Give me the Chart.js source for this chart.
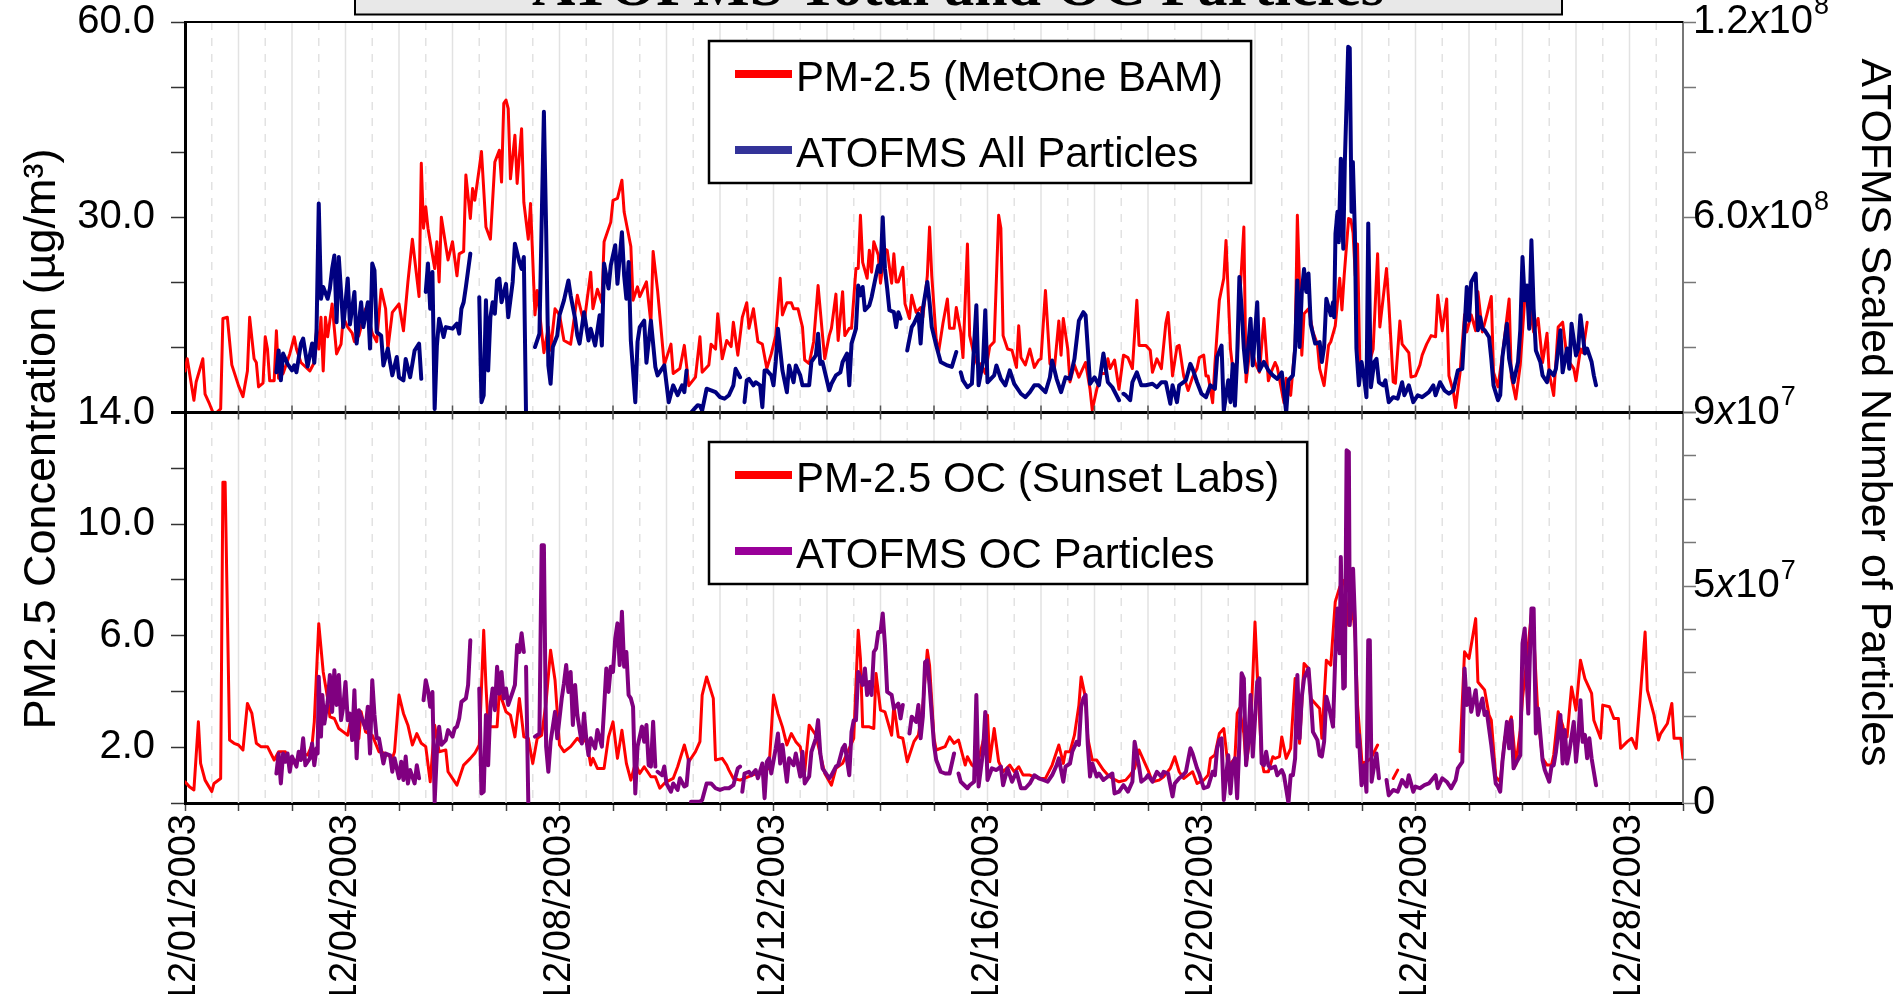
<!DOCTYPE html>
<html>
<head>
<meta charset="utf-8">
<title>ATOFMS Total and OC Particles</title>
<script src="https://cdn.jsdelivr.net/npm/chart.js@4/dist/chart.umd.min.js"></script>
<style>
  html, body { margin: 0; padding: 0; background: #fff; }
</style>
</head>
<body>
<canvas id="myChart" width="1899" height="994"></canvas>
<script>
// hours since 12/01/2003 00:00, value
const bamPm25 = [[0,17.4],[1,18.4],[4,15.0],[5,16.5],[8,18.4],[9,15.5],[11,14.7],[13,13.8],[16,14.3],[17,21.7],[19,21.8],[21,17.9],[24,16.2],[26,15.3],[28,17.4],[29,21.8],[31,18.4],[32,18.1],[33,16.1],[35,16.4],[36,20.2],[37,19.2],[38,16.6],[40,16.6],[41,20.7],[42,16.8],[44,17.2],[47,18.8],[49,20.2],[50,19.2],[52,18.1],[56,17.4],[58,18.1],[59,20.9],[60,19.2],[61,21.8],[62,17.4],[63,21.8],[64,20.2],[66,22.9],[68,18.8],[70,19.6],[71,21.8],[73,21.0],[75,20.5],[76,19.8],[78,20.3],[81,22.5],[84,20.5],[86,19.8],[88,24.1],[90,22.5],[91,19.2],[93,22.2],[96,22.9],[98,20.7],[100,24.7],[102,28.2],[105,23.5],[106,38.3],[107,29.1],[108,31.6],[109,29.1],[112,25.8],[113,28.0],[114,24.7],[115,30.0],[118,26.5],[120,28.0],[122,25.2],[123,27.0],[125,27.2],[126,36.5],[128,29.9],[129,34.4],[130,32.6],[132,37.5],[133,40.1],[135,29.2],[137,28.2],[139,38.5],[141,40.3],[142,35.4],[143,47.5],[144,48.0],[145,46.7],[146,35.9],[148,42.6],[149,35.2],[151,43.6],[152,32.3],[154,28.2],[155,32.1],[157,22.0],[158,24.0],[161,18.9],[163,21.0],[164,19.1],[166,22.5],[168,22.0],[170,19.9],[173,19.6],[176,23.6],[179,21.3],[182,25.5],[183,22.5],[185,24.1],[187,23.0],[188,28.0],[191,29.6],[192,32.6],[194,32.9],[196,35.7],[197,30.8],[200,27.6],[201,23.2],[203,24.3],[204,23.5],[207,24.7],[209,21.3],[210,27.2],[212,24.0],[215,17.9],[218,19.6],[219,17.2],[222,17.6],[224,19.5],[226,16.2],[229,16.9],
  [231,20.2],[232,17.3],[235,17.9],[236,19.6],[238,19.2],[239,22.1],[241,18.4],[243,19.9],[245,19.4],[246,21.4],[248,18.7],[250,21.8],[252,23.0],[253,20.9],[255,22.5],[257,19.8],[259,19.6],[261,17.6],[263,18.8],[265,20.3],[267,25.0],[268,22.0],[270,23.0],[272,23.0],[273,22.5],[275,22.5],[277,21.0],[278,18.3],[280,18.0],[282,19.8],[284,24.4],[286,20.3],[287,18.4],[289,20.3],[290,20.9],[292,23.7],[293,19.9],[295,23.9],[296,20.3],[298,20.9],[299,20.9],[301,25.8],[302,25.8],[303,30.3],[304,26.3],[306,25.0],[307,27.3],[308,25.5],[309,28.0],[311,26.9],[312,24.6],[314,27.4],[315,27.3],[317,24.6],[318,27.0],[319,24.7],[320,24.7],[322,25.9],[323,22.9],[325,21.7],[326,23.6],[328,22.2],[330,22.6],[331,21.8],[333,25.2],[334,29.2],[335,25.2],[337,20.0],[338,18.9],[340,21.3],[342,23.3],[343,20.9],[345,20.9],[346,22.6],[348,20.6],[349,18.5],[351,27.8],[352,20.3],[354,18.7],[356,17.6],[357,18.0],[359,17.2],[361,19.4],[363,19.8],[365,30.3],[366,29.1],[367,20.3],[369,19.2],[371,19.1],[373,17.7],[374,21.1],[375,18.5],[377,17.9],[379,19.2],[381,17.7],[383,18.3],[384,18.4],[386,24.0],[388,18.0],[390,17.6],[392,21.5],[393,18.7],[394,21.7],[396,19.2],[397,16.5],[399,17.9],[401,16.9],[404,18.1],[406,15.9],[407,14.2],[409,15.9],[411,17.2],[413,17.2],[414,18.4],[415,17.6],[417,18.3],[419,15.9],[421,18.7],[423,18.5],[425,17.6],[427,23.2],[428,19.5],[431,19.5],[433,19.1],[434,17.3],[436,18.4],[438,17.6],[440,21.3],[441,22.2],[443,17.0],[445,19.4],[446,19.5],[448,17.0],[450,15.8],[452,16.9],[454,17.6],[455,18.5],[457,18.7],[458,17.0],[459,17.0],[461,14.8],
  [462,17.9],[464,23.2],[466,25.0],[467,28.1],[469,19.2],[470,17.6],[472,18.1],[473,22.8],[475,29.2],[476,16.5],[478,19.6],[480,18.1],[482,17.3],[484,21.7],[486,16.6],[487,17.2],[489,18.1],[490,17.7],[493,14.8],[494,16.8],[496,15.4],[498,19.6],[499,30.3],[501,18.7],[502,22.1],[504,22.5],[506,20.6],[508,19.6],[509,17.6],[511,16.2],[513,19.5],[514,19.8],[516,21.1],[518,25.0],[519,22.4],[520,25.2],[522,29.9],[523,29.8],[524,28.7],[525,25.2],[526,27.8],[527,18.3],[529,17.0],[531,17.9],[533,19.2],[535,27.0],[536,21.0],[539,25.8],[540,23.0],[542,16.5],[543,16.4],[545,21.5],[546,19.6],[549,18.9],[550,16.9],[552,17.0],[554,17.9],[555,18.7],[557,19.6],[559,20.3],[561,20.2],[562,23.6],[564,20.7],[566,23.3],[567,17.0],[569,15.7],[570,14.4],[572,17.3],[574,22.0],[575,20.6],[577,22.0],[579,20.7],[580,23.9],[582,20.6],[584,22.0],[586,23.5],[587,17.3],[589,16.1],[591,18.7],[594,23.3],[595,16.9],[597,15.1],[599,17.9],[601,23.3],[603,23.0],[605,20.6],[607,21.7],[609,18.1],[611,20.5],[612,17.2],[614,15.4],[616,21.0],[618,21.4],[620,18.4],[623,17.6],[624,16.6],[626,19.2],[627,18.9],[629,21.4]];

// scaled particle counts, units of 1e8
const atofmsAll = [[41,1.95],[42,2.52],[43,1.74],[44,2.44],[46,2.17],[48,2.0],[49,2.13],[50,1.95],[52,2.7],[53,2.83],[55,2.1],[57,2.7],[58,2.2],[59,3.0],[60,6.42],[61,3.87],[62,4.18],[64,3.87],[65,4.14],[66,4.65],[67,5.0],[68,3.26],[69,4.96],[70,4.05],[71,3.13],[73,4.4],[74,3.2],[76,4.05],[77,2.7],[79,3.78],[80,3.13],[82,3.78],[83,2.57],[84,4.79],[85,4.61],[86,3.0],[88,2.91],[89,2.13],[91,2.57],[92,2.2],[93,1.87],[95,2.35],[96,1.82],[98,1.74],[99,2.3],[101,1.82],[103,2.52],[105,2.7],[106,1.78],[107,null],[108,4.05],[109,4.79],[110,3.61],[111,4.57],[112,0.99],[113,2.65],[114,3.35],[116,2.87],[117,3.13],[120,3.09],[122,3.22],[123,2.96],[124,3.61],[125,3.78],[126,4.18],[128,5.05],[130,null],[132,3.91],[133,1.17],[134,1.35],[135,3.83],[136,2.0],[137,3.39],[138,3.78],[139,3.48],[140,4.35],[141,4.4],[142,3.78],[144,4.26],[145,3.39],[147,4.31],[148,5.31],[150,4.83],[151,4.65],[152,4.96],[153,0.8],[155,null],[157,2.61],[159,2.96],[161,9.24],[162,5.7],[163,2.13],[164,1.65],[165,2.61],[167,2.91],[168,3.44],[170,3.83],[172,4.35],[173,3.96],[175,3.35],[176,2.91],[177,2.7],[179,3.52],[181,2.78],[182,3.09],[184,2.65],[186,3.44],[187,2.65],[188,4.79],[190,4.14],[191,4.74],[193,5.27],[194,4.26],[196,5.61],[197,4.48],[198,3.87],[199,4.83],[200,2.78],[202,1.17],[203,2.74],[204,3.13],[206,3.3],[207,2.2],[209,3.3],[211,2.09],[212,1.87],[215,2.13],[217,1.17],[219,1.61],[221,1.35],[223,1.61],[224,1.43],[225,2.0],[226,null],[227,0.9],[230,1.09],
  [231,1.08],[232,0.95],[234,1.52],[236,1.48],[238,1.43],[240,1.3],[242,1.26],[244,1.35],[246,1.61],[247,2.04],[249,1.82],[250,null],[251,1.17],[252,1.74],[253,1.78],[255,1.61],[256,1.69],[258,1.61],[259,1.04],[260,2.0],[261,2.0],[263,1.87],[264,1.61],[265,2.22],[266,3.09],[268,2.0],[270,1.43],[271,2.13],[273,1.69],[274,2.13],[276,1.87],[277,1.61],[280,1.61],[281,2.22],[283,2.39],[284,2.96],[285,2.17],[286,2.22],[289,1.48],[290,1.65],[292,1.87],[294,1.95],[295,2.22],[297,2.44],[298,1.61],[299,2.7],[301,3.09],[302,4.22],[303,3.96],[304,4.18],[305,3.57],[307,3.7],[308,3.91],[310,4.48],[311,4.74],[312,4.57],[313,6.0],[314,4.65],[315,4.14],[316,3.57],[318,3.52],[319,3.13],[320,3.52],[321,3.35],[322,null],[324,2.52],[326,3.13],[327,3.22],[329,3.48],[330,2.7],[331,3.61],[333,4.31],[334,3.78],[335,3.13],[337,2.65],[339,2.22],[342,2.13],[344,2.09],[346,2.48],[347,null],[348,1.95],[349,1.74],[351,1.56],[353,1.65],[355,3.7],[356,1.61],[358,2.22],[359,3.57],[360,1.69],[363,1.87],[364,2.13],[366,1.78],[368,1.61],[370,2.0],[372,1.65],[375,1.39],[377,1.3],[379,1.43],[381,1.61],[383,1.61],[386,1.43],[388,1.82],[389,2.26],[391,1.78],[393,1.43],[395,1.82],[397,1.78],[399,2.3],[401,3.3],[403,3.52],[404,3.44],[405,2.57],[406,1.65],[408,1.82],[410,1.61],[412,2.44],[414,1.69],[416,1.56],[419,1.22],[420,null],[421,1.39],[422,1.35],[424,1.22],[425,1.69],[427,1.95],[429,1.61],[431,1.61],[434,1.65],[436,1.56],[438,1.69],[440,1.69],[442,1.13],[443,1.61],[445,1.17],[446,1.61],[449,1.74],[451,2.17],[452,2.04],[454,1.69],[456,1.39],[458,1.3],[460,1.61],
  [462,1.52],[463,2.35],[465,2.65],[466,0.95],[468,1.74],[469,1.17],[470,2.17],[471,1.08],[472,2.35],[473,4.44],[474,3.61],[475,2.57],[476,1.95],[478,3.35],[479,2.13],[481,3.78],[482,2.0],[484,2.22],[486,2.0],[488,1.87],[490,1.78],[492,1.95],[494,0.9],[495,1.74],[497,1.87],[498,2.57],[499,4.35],[500,2.61],[501,4.05],[502,4.65],[503,4.05],[504,4.53],[505,3.2],[507,2.7],[509,2.74],[510,2.22],[511,2.61],[512,3.87],[514,3.44],[515,3.78],[515.5,3.39],[516.1,5.57],[517,6.17],[517.6,5.35],[518.5,7.8],[519.6,5.18],[520.3,7.7],[521.1,9.55],[521.8,11.24],[522.5,11.2],[523.3,6.17],[523.9,7.7],[524.8,5.61],[525.5,2.57],[526.6,1.61],[527.8,2.22],[529,1.78],[530,1.3],[530.8,5.84],[532,1.56],[533.5,2.22],[534.5,2.3],[535.6,1.69],[537.5,1.61],[538.5,1.74],[540,1.17],[542,1.3],[544,1.26],[546,1.69],[547,1.35],[549,1.61],[551,1.17],[553,1.35],[555,1.3],[558,1.43],[560,1.61],[561,1.35],[563,1.69],[565,1.48],[567,1.39],[569,1.48],[571,2.0],[573,2.04],[574,3.09],[575,4.18],[576,3.3],[577,4.31],[579,4.53],[580,3.05],[581,3.39],[582,3.09],[583,3.05],[585,2.87],[586,2.3],[587,1.61],[589,1.22],[590,1.35],[591,2.35],[593,3.22],[594,2.3],[596,1.69],[598,2.22],[599,3.05],[600,4.96],[601,3.83],[602,4.22],[603,3.09],[604,5.4],[605,3.61],[606,2.52],[608,2.22],[609,1.87],[611,1.69],[612,2.0],[614,1.87],[615,2.04],[617,3.05],[618,1.95],[620,2.57],[621,2.04],[622,3.22],[624,2.39],[625,2.57],[626,3.44],[628,2.44],[629,2.57],[631,2.22],[632,1.87],[633,1.61]];

// organic carbon, ug/m3
const sunsetOc = [[0,0.76],[2,0.58],[4,0.47],[6,2.91],[7,1.42],[9,0.82],[12,0.41],[13,0.7],[16,0.88],[17,11.5],[18,11.5],[20,2.26],[22,2.14],[24,2.08],[26,1.9],[28,3.57],[30,3.21],[32,2.14],[34,2.02],[37,2.02],[40,1.54],[42,1.84],[45,1.84],[47,1.36],[50,1.54],[52,1.78],[55,1.72],[57,2.08],[58,2.91],[60,6.43],[62,4.7],[64,3.75],[65,3.09],[67,3.03],[69,2.67],[71,2.55],[73,2.43],[74,2.85],[76,2.49],[78,2.32],[79,3.27],[81,2.55],[84,2.43],[87,1.84],[90,1.78],[93,1.6],[94,1.84],[96,3.87],[98,3.21],[100,2.79],[102,2.08],[104,2.49],[106,2.14],[108,2.02],[110,0.76],[112,2.79],[114,1.84],[117,1.9],[118,1.12],[122,0.64],[125,1.36],[128,1.6],[130,1.78],[132,2.08],[134,6.19],[135,4.22],[136,2.73],[140,2.73],[141,3.99],[144,3.27],[146,3.15],[148,2.37],[150,3.75],[152,2.37],[154,2.32],[156,1.42],[158,2.32],[160,2.43],[162,3.63],[164,5.48],[166,4.4],[168,2.08],[170,1.84],[173,2.02],[176,2.32],[178,2.14],[180,2.32],[182,1.36],[183,1.6],[185,1.24],[188,1.24],[190,2.37],[192,2.91],[194,1.6],[196,2.61],[198,1.42],[200,0.82],[202,1.42],[204,1.06],[206,1.3],[209,0.94],[211,0.94],[213,0.53],[215,0.7],[216,0.76],[219,0.88],[221,1.3],[224,2.08],[226,1.48],[229,1.84],
  [231,2.2],[232,3.87],[234,4.52],[237,3.75],[238,1.54],[241,1.6],[243,1.36],[244,1.18],[246,0.88],[249,0.82],[262,1.24],[264,3.87],[266,3.21],[268,2.73],[270,2.08],[272,2.49],[274,2.2],[276,2.02],[278,1.12],[280,2.79],[283,2.43],[284,2.08],[287,1.06],[290,0.64],[292,1.24],[295,1.42],[298,1.96],[300,2.32],[302,6.19],[303,5.18],[304,2.73],[307,2.73],[309,2.67],[310,4.64],[312,3.33],[314,3.27],[317,2.43],[318,3.51],[320,2.37],[322,2.32],[324,1.48],[327,2.2],[329,2.43],[331,3.51],[333,5.48],[334,4.94],[336,2.32],[337,1.9],[341,2.02],[343,2.37],[345,2.14],[347,2.26],[350,1.36],[351,1.66],[353,1.36],[355,1.24],[358,2.2],[360,3.15],[361,1.48],[363,2.67],[365,1.48],[367,1.12],[370,1.36],[372,1.12],[374,1.3],[376,1.0],[379,1.0],[381,0.94],[384,0.88],[386,0.88],[389,1.36],[392,2.08],[394,1.42],[395,1.84],[397,1.84],[399,2.43],[401,3.51],[402,4.52],[404,3.75],[405,2.32],[407,1.54],[409,1.54],[412,1.18],[414,1.0],[416,0.88],[419,0.76],[422,0.82],[424,1.0],[426,1.24],[428,1.9],[430,1.54],[432,1.18],[434,0.76],[437,0.82],[439,0.94],[442,1.24],[444,1.66],[446,1.12],[448,0.88],[450,1.0],[452,1.12],[454,0.7],[457,0.82],[459,1.0],[460,1.6],
  [462,1.72],[464,2.49],[466,2.67],[468,1.24],[469,1.42],[471,1.6],[472,3.21],[473,3.39],[475,2.49],[476,1.36],[478,2.49],[480,6.49],[481,4.7],[483,1.54],[484,1.12],[486,1.12],[488,1.66],[489,1.6],[491,1.66],[492,2.37],[494,1.6],[496,1.96],[498,4.46],[500,2.14],[502,5.0],[504,4.82],[505,3.75],[507,3.57],[509,3.39],[510,2.32],[512,5.12],[514,4.94],[516,7.21],[518,7.74],[520,7.98],[522,6.37],[524,6.85],[525,5.9],[526,3.51],[528,1.42],[530,1.48],[532,1.6],[535,2.08],[536,null],[542,0.88],[544,1.18],[545,null],[572,1.84],[574,5.42],[576,5.18],[579,6.61],[580,4.34],[583,4.05],[585,3.15],[586,2.97],[588,0.94],[590,0.76],[592,2.32],[595,3.09],[597,1.36],[599,2.61],[600,3.75],[602,5.18],[604,6.79],[605,6.13],[607,3.03],[609,1.6],[611,1.36],[613,1.36],[614,1.72],[616,3.27],[618,2.79],[619,2.43],[620,2.37],[622,4.16],[624,3.33],[626,5.12],[628,4.46],[631,3.93],[632,2.97],[635,2.32],[636,3.51],[639,3.45],[641,3.03],[643,3.03],[644,1.96],[647,2.2],[649,2.32],[651,1.96],[653,3.99],[655,6.13],[656,4.05],[659,3.15],[661,2.26],[662,2.49],[665,2.85],[667,3.57],[668,2.32],[671,2.32],[672,1.6]];

// OC particle counts, units of 1e7
const atofmsOc = [[41,0.68],[42,1.14],[43,0.45],[44,1.14],[45,0.95],[46,1.14],[47,0.72],[48,1.07],[50,0.84],[51,1.18],[52,0.99],[53,1.49],[54,0.87],[56,1.03],[57,1.37],[58,0.87],[59,1.26],[59.5,1.14],[60,2.91],[61,1.53],[61.6,2.49],[62.5,1.83],[64,2.33],[65,2.95],[66,2.1],[67,3.06],[68,2.26],[69,2.95],[70,1.91],[71,2.22],[72,2.79],[73,1.91],[74,2.06],[75,1.45],[76,2.6],[77,1.03],[78,2.14],[79,1.99],[81,1.72],[82,2.22],[83,1.14],[84,2.83],[85,2.03],[86,1.49],[87,1.49],[89,0.91],[90,1.14],[92,1.1],[93,0.72],[94,1.03],[96,0.57],[97,0.95],[98,0.53],[99,1.07],[100,0.45],[101,0.76],[103,0.45],[104,0.87],[105,0.57],[106,null],[107,2.37],[108,2.83],[109,2.6],[110,2.22],[111,2.56],[112,0.03],[113,1.18],[114,1.76],[115,1.34],[117,1.45],[118,1.68],[120,1.53],[121,1.72],[122,1.76],[123,1.95],[124,2.33],[126,2.41],[127,2.72],[128,3.75],[130,null],[132,2.64],[133,0.22],[134,0.26],[135,2.03],[136,0.87],[137,2.22],[138,2.64],[139,2.14],[140,3.14],[141,2.52],[142,3.02],[143,2.41],[144,2.64],[145,2.26],[147,2.56],[148,2.72],[149,3.64],[150,3.48],[151,3.91],[152,3.48],[152.5,null],[153,3.14],[154,0.03],[155,null],[157,1.53],[159,1.6],[160,5.94],[161,5.94],[162,1.3],[163,0.72],[164,1.41],[166,2.1],[167,1.49],[169,2.41],[170,2.76],[171,3.18],[172,2.56],[173,3.02],[174,1.8],[175,2.72],[176,2.03],[178,1.37],[179,2.06],[180,1.49],[181,1.1],[182,1.49],[184,1.26],[185,1.68],[187,1.3],[188,2.18],[189,3.1],[190,2.56],[191,3.14],[192,3.02],[193,3.79],[194,4.14],[195,3.18],[196,4.41],[197,3.14],[198,3.48],[199,2.49],[200,2.41],[201,2.22],[202,0.22],[203,1.3],[205,1.76],[206,1.41],[207,1.8],[208,0.87],[209,0.84],[210,1.87],[211,0.84],[211.5,null],[212,0.72],[214,0.64],[215,0.84],[216,0.45],[218,0.26],[219,0.45],[221,0.3],[222,0.57],[224,0.38],[225,0.41],[226,0.99],[226.5,null],[227,0.03],
  [231,0.03],[232,0.07],[234,0.45],[236,0.45],[238,0.34],[240,0.3],[242,0.34],[244,0.34],[246,0.41],[247,0.61],[248,0.8],[249,0.84],[249.5,null],[250,0.26],[251,0.68],[253,0.72],[254,0.64],[256,0.76],[257,0.57],[259,0.91],[260,0.11],[261,0.95],[262,1.03],[263,0.68],[265,1.26],[266,1.6],[267,0.91],[268,1.34],[270,0.49],[271,1.03],[273,0.87],[274,1.14],[276,0.61],[277,1.18],[278,0.45],[280,0.61],[281,1.18],[283,1.49],[284,1.91],[285,1.14],[286,0.8],[289,0.57],[290,0.64],[292,0.84],[293,0.87],[295,1.26],[296,1.34],[298,0.64],[299,1.64],[300,1.91],[301,1.91],[302,3.02],[304,2.72],[305,3.1],[306,2.49],[307,2.79],[308,2.49],[309,3.48],[310,3.56],[311,3.94],[312,3.94],[313,4.37],[314,3.64],[315,2.56],[317,2.49],[318,2.18],[320,2.29],[321,1.95],[322,2.26],[323,null],[325,1.6],[326,1.99],[328,1.87],[329,2.26],[330,1.49],[331,1.99],[332,3.25],[333,3.29],[334,2.72],[336,1.34],[337,0.99],[339,0.72],[341,0.68],[343,0.68],[345,1.14],[346,null],[347,0.68],[348,0.49],[351,0.34],[352,0.41],[354,0.49],[355,2.49],[356,0.38],[358,1.18],[359,2.1],[360,0.53],[362,0.8],[364,0.76],[366,0.84],[367,0.41],[369,0.8],[371,0.49],[373,0.72],[375,0.34],[377,0.34],[379,0.45],[381,0.64],[383,0.57],[385,0.53],[387,0.49],[389,0.64],[391,0.87],[392,1.03],[394,0.49],[395,0.84],[397,0.91],[398,1.18],[400,1.41],[401,1.34],[402,2.22],[403,2.41],[404,2.49],[405,1.34],[406,0.61],[407,0.91],[409,0.61],[410,0.68],[412,0.53],[414,0.61],[416,0.68],[417,0.22],[419,0.26],[421,0.41],[423,0.26],[425,0.49],[426,1.41],[428,0.84],[429,0.49],[431,0.57],[432,0.64],[434,0.49],[436,0.72],[438,0.61],[439,0.72],[441,0.68],[443,0.15],[444,0.45],[446,0.57],[447,0.61],[449,0.72],[451,1.26],[452,1.14],[454,0.8],[455,0.68],[457,0.34],[459,0.38],[461,0.72],
  [462,0.64],[463,1.26],[464,1.45],[465,1.49],[466,0.07],[468,1.1],[469,0.22],[470,0.91],[471,1.03],[472,0.11],[473,1.41],[474,2.99],[475,2.87],[476,0.87],[477,1.41],[478,2.49],[479,1.07],[481,2.79],[482,2.87],[483,0.91],[484,0.87],[485,1.18],[486,0.87],[487,0.8],[489,0.84],[490,0.64],[492,0.76],[493,0.64],[495,0.0],[496,0.64],[497,0.64],[498,1.03],[499,2.95],[500,1.49],[501,2.45],[502,2.87],[504,3.1],[505,2.45],[506,1.64],[508,1.45],[509,1.1],[510,1.07],[511,1.41],[512,2.45],[513,2.26],[515,1.76],[516,3.37],[517,4.48],[518,3.45],[518.5,5.67],[519.6,2.64],[520.3,2.68],[521.1,8.13],[522.1,8.09],[522.5,4.1],[523.3,4.79],[524,5.4],[524.8,4.25],[526,1.3],[526.6,1.57],[527.8,0.41],[529,0.87],[530,0.26],[530.8,3.75],[531.5,3.75],[532.3,0.49],[533.5,0.87],[534.5,1.14],[535.6,0.57],[537,null],[539,0.53],[540,0.18],[542,0.3],[544,0.26],[546,0.53],[548,0.38],[549,0.64],[551,0.26],[552,0.38],[554,0.34],[556,0.41],[558,0.45],[561,0.64],[562,0.34],[564,0.57],[566,0.49],[568,0.34],[570,0.53],[571,0.8],[573,0.95],[574,3.1],[575,2.26],[576,2.64],[577,2.1],[579,2.6],[580,2.03],[582,2.41],[583,2.03],[584,2.1],[586,1.34],[588,0.45],[589,0.38],[590,0.26],[591,0.95],[593,1.87],[594,1.26],[595,1.91],[596,0.8],[597,0.91],[599,1.1],[600,3.68],[601,4.02],[602,2.72],[602.6,2.06],[603.3,3.37],[604,4.48],[605,4.48],[606,1.6],[607,2.18],[609,0.99],[610,0.76],[612,0.49],[613,0.84],[614,0.87],[615,1.18],[617,2.03],[618,0.91],[619,1.68],[620,0.91],[621,1.18],[623,1.87],[624,0.95],[625,1.49],[626,2.37],[627,1.41],[628,1.57],[629,1.03],[630,1.49],[631,1.03],[632,0.72],[633,0.41]];

const dateLabels = ['12/01/2003', '12/04/2003', '12/08/2003', '12/12/2003', '12/16/2003', '12/20/2003', '12/24/2003', '12/28/2003'];
const labelDays = [0, 3, 7, 11, 15, 19, 23, 27];

// upper panel axes are split: lower half and upper half have separate linear ranges
const splitBreaks = { yTop: [14, 30, 60], yTopR: [0.9, 6, 12] };
const splitTicks = {
  yTop: [14, 19.33, 24.67, 30, 40, 50, 60],
  yTopR: [0.9, 2.6, 4.3, 6, 8, 10, 12]
};
const leftTopLabels = { 14: '14.0', 30: '30.0', 60: '60.0' };
const leftBottomLabels = { 2: '2.0', 6: '6.0', 10: '10.0' };
// [value, mantissa, exponent]
const rightTopLabels = [[0.9, '9', '7'], [6, '6.0', '8'], [12, '1.2', '8']];
const rightBottomLabels = [[0, '0', null], [5, '5', '7']];

const FONT = '"Liberation Sans", Arial, sans-serif';
Chart.defaults.font.family = FONT;
Chart.defaults.color = '#000';

class SplitScale extends Chart.LinearScale {
  static id = 'split';
  static defaults = {};
  buildTicks() {
    return splitTicks[this.id].map(value => ({ value }));
  }
  getPixelForValue(value) {
    const [lo, mid, hi] = splitBreaks[this.id];
    const f = value <= mid ? 0.5 * (value - lo) / (mid - lo) : 0.5 + 0.5 * (value - mid) / (hi - mid);
    return this.getPixelForDecimal(f);
  }
  getValueForPixel(pixel) {
    const [lo, mid, hi] = splitBreaks[this.id];
    const f = this.getDecimalForPixel(pixel);
    return f <= 0.5 ? lo + 2 * f * (mid - lo) : mid + (2 * f - 1) * (hi - mid);
  }
}
Chart.register(SplitScale);

const toPoints = rows => rows.map(([h, v]) => ({ x: h, y: v }));

// fixed box sizes so the plot area lands in the same place every time
const fixWidth = w => s => {
  s.width = w;
  s.paddingTop = 0;
  s.paddingBottom = 0;
};
const fixHeight = h => s => {
  s.height = h;
  s.paddingLeft = 0;
  s.paddingRight = 0;
};

// keep each line inside its own panel
const panelClip = {
  id: 'panelClip',
  beforeDatasetDraw(chart, args) {
    const y = args.meta.yScale;
    const a = chart.chartArea;
    const ctx = chart.ctx;
    ctx.save();
    ctx.beginPath();
    ctx.rect(a.left, y.top, a.right - a.left, y.bottom - y.top);
    ctx.clip();
  },
  afterDatasetDraw(chart) {
    chart.ctx.restore();
  }
};

const gridLines = {
  id: 'gridLines',
  beforeDatasetsDraw(chart) {
    const { ctx, chartArea: a } = chart;
    const x = chart.scales.x;
    ctx.save();
    ctx.strokeStyle = '#e2e2e2';
    ctx.lineWidth = 1.5;
    for (let h = 12; h < 672; h += 12) {
      const px = x.getPixelForValue(h);
      ctx.setLineDash(h % 24 ? [8, 8] : []);
      ctx.beginPath();
      ctx.moveTo(px, a.top);
      ctx.lineTo(px, a.bottom);
      ctx.stroke();
    }
    ctx.restore();
  }
};

function drawRightLabels(ctx, scale, labels) {
  ctx.save();
  ctx.fillStyle = '#000';
  ctx.textBaseline = 'middle';
  ctx.textAlign = 'left';
  for (const [value, mant, exp] of labels) {
    const y = scale.getPixelForValue(value);
    let x = scale.left + 10;
    ctx.font = '40px ' + FONT;
    ctx.fillText(mant, x, y);
    x += ctx.measureText(mant).width;
    if (exp === null) continue;
    ctx.font = 'italic 40px ' + FONT;
    ctx.fillText('x', x, y);
    x += ctx.measureText('x').width;
    ctx.font = '40px ' + FONT;
    ctx.fillText('10', x, y);
    x += ctx.measureText('10').width + 1;
    ctx.font = '27px ' + FONT;
    ctx.fillText(exp, x, y - 15);
  }
  ctx.restore();
}

function drawLegend(ctx, left, top, rows) {
  ctx.save();
  ctx.font = '42px ' + FONT;
  const textX = left + 87;
  const w = Math.max(...rows.map(r => ctx.measureText(r.label).width)) + 87 + 28;
  ctx.fillStyle = '#fff';
  ctx.fillRect(left, top, w, 142);
  ctx.strokeStyle = '#000';
  ctx.lineWidth = 2.5;
  ctx.strokeRect(left, top, w, 142);
  rows.forEach((r, i) => {
    const base = top + 50 + i * 76;
    ctx.strokeStyle = r.color;
    ctx.lineWidth = 8;
    ctx.beginPath();
    ctx.moveTo(left + 26, base - 17);
    ctx.lineTo(left + 83, base - 17);
    ctx.stroke();
    ctx.fillStyle = '#000';
    ctx.textBaseline = 'alphabetic';
    ctx.fillText(r.label, textX, base);
  });
  ctx.restore();
}

const decorations = {
  id: 'decorations',
  afterDatasetsDraw(chart) {
    const { ctx, chartArea: a } = chart;
    const x = chart.scales.x;
    const midY = chart.scales.yTop.bottom;
    ctx.save();
    // frame: top edge and the line between the panels
    ctx.strokeStyle = '#000';
    ctx.lineWidth = 2;
    ctx.beginPath();
    ctx.moveTo(a.left, a.top);
    ctx.lineTo(a.right, a.top);
    ctx.stroke();
    ctx.lineWidth = 3;
    ctx.beginPath();
    ctx.moveTo(a.left - 14, midY);
    ctx.lineTo(a.right, midY);
    ctx.stroke();
    // day ticks on the shared line
    ctx.strokeStyle = '#555';
    ctx.lineWidth = 1.5;
    for (let h = 24; h < 672; h += 24) {
      const px = x.getPixelForValue(h);
      ctx.beginPath();
      ctx.moveTo(px, midY - 7);
      ctx.lineTo(px, midY + 7);
      ctx.stroke();
    }
    ctx.restore();
  },
  afterDraw(chart) {
    const { ctx, chartArea: a } = chart;
    const ds = chart.data.datasets;

    drawRightLabels(ctx, chart.scales.yTopR, rightTopLabels);
    drawRightLabels(ctx, chart.scales.yBotR, rightBottomLabels);

    drawLegend(ctx, 709, 41, [
      { label: ds[1].label, color: '#ff0000' },
      { label: ds[0].label, color: '#333399' }
    ]);
    drawLegend(ctx, 709, 442, [
      { label: ds[3].label, color: '#ff0000' },
      { label: ds[2].label, color: '#990099' }
    ]);

    ctx.save();
    // title box, running off the top edge
    ctx.fillStyle = '#e8e8e8';
    ctx.fillRect(355, -6, 1207, 20.5);
    ctx.strokeStyle = '#000';
    ctx.lineWidth = 2;
    ctx.strokeRect(355, -6, 1207, 20.5);
    ctx.fillStyle = '#000';
    ctx.font = 'bold 60px "Liberation Serif", "Times New Roman", serif';
    ctx.textAlign = 'center';
    ctx.textBaseline = 'alphabetic';
    ctx.fillText('ATOFMS Total and OC Particles', 958, 5);

    // axis titles spanning both panels
    ctx.fillStyle = '#000';
    ctx.textBaseline = 'middle';
    ctx.save();
    ctx.font = '45px ' + FONT;
    ctx.translate(43, 439);
    ctx.rotate(-Math.PI / 2);
    ctx.fillText('PM2.5 Concentration (\u00b5g/m\u00b3)', 0, 0);
    ctx.restore();
    ctx.save();
    ctx.font = '43px ' + FONT;
    ctx.translate(1874, (a.top + a.bottom) / 2);
    ctx.rotate(Math.PI / 2);
    ctx.fillText('ATOFMS Scaled Number of Particles', 0, 0);
    ctx.restore();
    ctx.restore();
  }
};

const tickFont = { size: 40, family: FONT };

new Chart(document.getElementById('myChart'), {
  type: 'line',
  data: {
    datasets: [
      {
        label: 'ATOFMS All Particles',
        data: toPoints(atofmsAll),
        yAxisID: 'yTopR',
        borderColor: '#000080',
        borderWidth: 4,
        order: 0
      },
      {
        label: 'PM-2.5 (MetOne BAM)',
        data: toPoints(bamPm25),
        yAxisID: 'yTop',
        borderColor: '#ff0000',
        borderWidth: 3,
        order: 1
      },
      {
        label: 'ATOFMS OC Particles',
        data: toPoints(atofmsOc),
        yAxisID: 'yBotR',
        borderColor: '#800080',
        borderWidth: 4,
        order: 0
      },
      {
        label: 'PM-2.5 OC (Sunset Labs)',
        data: toPoints(sunsetOc),
        yAxisID: 'yBot',
        borderColor: '#ff0000',
        borderWidth: 3,
        order: 1
      }
    ]
  },
  options: {
    responsive: false,
    animation: false,
    events: [],
    spanGaps: false,
    elements: {
      point: { radius: 0 },
      line: { tension: 0, borderJoinStyle: 'round', borderCapStyle: 'round' }
    },
    layout: { padding: { top: 22, left: 0, right: 0, bottom: 0 } },
    plugins: {
      legend: { display: false },
      tooltip: { enabled: false }
    },
    scales: {
      x: {
        type: 'linear',
        min: 0,
        max: 672,
        afterFit: fixHeight(191),
        ticks: {
          stepSize: 24,
          autoSkip: false,
          minRotation: 90,
          maxRotation: 90,
          padding: 3,
          font: { size: 38, family: FONT },
          callback: v => {
            const i = labelDays.indexOf(v / 24);
            return i < 0 ? '' : dateLabels[i];
          }
        },
        grid: { drawOnChartArea: false, tickLength: 8, tickColor: '#444', tickWidth: 1.5 },
        border: { color: '#000', width: 3 }
      },
      yTop: {
        type: 'split',
        position: 'left',
        stack: 'left',
        stackWeight: 1,
        weight: 2,
        min: 14,
        max: 60,
        afterFit: fixWidth(185),
        ticks: {
          autoSkip: false,
          padding: 16,
          font: tickFont,
          callback: v => leftTopLabels[v] || ''
        },
        grid: { drawOnChartArea: false, tickLength: 14, tickColor: '#333', tickWidth: 1.5 },
        border: { color: '#000', width: 3 }
      },
      yBot: {
        type: 'linear',
        position: 'left',
        stack: 'left',
        stackWeight: 1,
        weight: 1,
        min: 0,
        max: 14,
        afterFit: fixWidth(185),
        ticks: {
          stepSize: 2,
          autoSkip: false,
          padding: 16,
          font: tickFont,
          callback: v => leftBottomLabels[v] || ''
        },
        grid: { drawOnChartArea: false, tickLength: 14, tickColor: '#333', tickWidth: 1.5 },
        border: { color: '#000', width: 3 }
      },
      yTopR: {
        type: 'split',
        position: 'right',
        stack: 'right',
        stackWeight: 1,
        weight: 1,
        min: 0.9,
        max: 12,
        afterFit: fixWidth(216),
        ticks: { display: false, autoSkip: false },
        grid: { drawOnChartArea: false, tickLength: 13, tickColor: '#777', tickWidth: 1.5 },
        border: { color: '#777', width: 2 }
      },
      yBotR: {
        type: 'linear',
        position: 'right',
        stack: 'right',
        stackWeight: 1,
        weight: 2,
        min: 0,
        max: 9,
        afterFit: fixWidth(216),
        ticks: { display: false, autoSkip: false, stepSize: 1 },
        grid: { drawOnChartArea: false, tickLength: 13, tickColor: '#777', tickWidth: 1.5 },
        border: { color: '#777', width: 2 }
      }
    }
  },
  plugins: [gridLines, panelClip, decorations]
});
</script>
</body>
</html>
